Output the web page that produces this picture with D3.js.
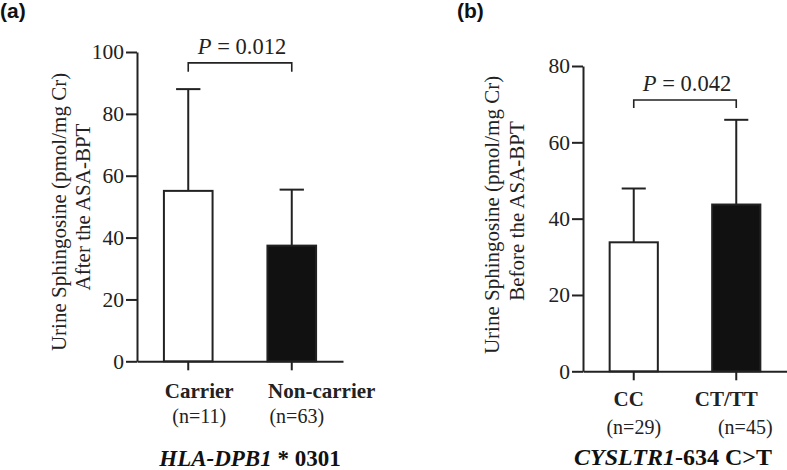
<!DOCTYPE html>
<html>
<head>
<meta charset="utf-8">
<script src="https://cdn.jsdelivr.net/npm/d3@7"></script>
<style>
  body { margin: 0; background: #fff; }
  svg { display: block; font-family: "Liberation Serif", "Times New Roman", serif; }
</style>
</head>
<body>
<svg id="chart" width="787" height="470"></svg>
<script>
"use strict";

// panel (a) values
var a_categories = ["Carrier", "Non-carrier"];
var a_counts = ["(n=11)", "(n=63)"];
var a_means = [55.1, 37.4];
var a_sd = [32.9, 18.1];
var a_ticks = [0, 20, 40, 60, 80, 100];
var a_pvalue = "0.012";

// panel (b) values
var b_categories = ["CC", "CT/TT"];
var b_counts = ["(n=29)", "(n=45)"];
var b_means = [33.8, 43.7];
var b_sd = [14.1, 22.2];
var b_ticks = [0, 20, 40, 60, 80];
var b_pvalue = "0.042";

var INK = "#222";

var svg = d3.select("#chart");

function drawPanel(cfg){
  var g = svg.append("g");

  var x = d3.scaleBand()
  .domain(cfg.categories)
  .range([cfg.left, cfg.right])
  .paddingInner(0.53)
  .paddingOuter(0.26);

  var y = d3.scaleLinear()
  .domain([0, d3.max(cfg.ticks)])
  .range([cfg.bottom, cfg.top]);

  var rows = cfg.categories.map(function(c, i){
    return {cat: c, mean: cfg.means[i], sd: cfg.sd[i], n: cfg.counts[i], fill: cfg.fills[i]};
  });

  // y axis
  var yAxis = g.append("g")
  .attr("transform", "translate(" + cfg.left + ",0)")
  .call(d3.axisLeft(y).tickValues(cfg.ticks).tickSize(11).tickPadding(2).tickSizeOuter(0));

  yAxis.selectAll("text")
  .attr("font-family", "Liberation Serif")
  .attr("font-size", 21.5)
  .attr("fill", INK);

  // x axis
  g.append("g")
  .attr("transform", "translate(0," + y(0) + ")")
  .call(d3.axisBottom(x).tickSize(9).tickFormat("").tickSizeOuter(0));

  g.selectAll(".domain, .tick line")
  .attr("stroke", INK)
  .attr("stroke-width", 2);

  // error bars (upper only), drawn behind the bars
  var err = g.selectAll(".err")
  .data(rows)
  .enter()
  .append("g")
  .attr("class", "err")
  .attr("stroke", INK)
  .attr("stroke-width", 2);

  err.append("line")
  .attr("x1", function(d){ return x(d.cat) + x.bandwidth() / 2; })
  .attr("x2", function(d){ return x(d.cat) + x.bandwidth() / 2; })
  .attr("y1", function(d){ return y(d.mean); })
  .attr("y2", function(d){ return y(d.mean + d.sd); });

  err.append("line")
  .attr("x1", function(d){ return x(d.cat) + x.bandwidth() / 4; })
  .attr("x2", function(d){ return x(d.cat) + x.bandwidth() * 3 / 4; })
  .attr("y1", function(d){ return y(d.mean + d.sd); })
  .attr("y2", function(d){ return y(d.mean + d.sd); });

  // bars
  g.selectAll(".bar")
  .data(rows)
  .enter()
  .append("rect")
  .attr("class", "bar")
  .attr("x", function(d){ return x(d.cat); })
  .attr("width", x.bandwidth())
  .attr("y", function(d){ return y(d.mean); })
  .attr("height", function(d){ return y(0) - y(d.mean); })
  .attr("fill", function(d){ return d.fill; })
  .attr("stroke", INK)
  .attr("stroke-width", 2);

  // significance bracket
  var c0 = x(cfg.categories[0]) + x.bandwidth() / 2;
  var c1 = x(cfg.categories[1]) + x.bandwidth() / 2;
  var yb = y(cfg.bracket), yd = y(cfg.bracketDrop);

  g.append("path")
  .attr("d", "M" + c0 + "," + yd + "V" + yb + "H" + c1 + "V" + yd)
  .attr("fill", "none")
  .attr("stroke", INK)
  .attr("stroke-width", 1.6);

  var p = g.append("text")
  .attr("x", (c0 + c1) / 2 + 2)
  .attr("y", yb - 9)
  .attr("text-anchor", "middle")
  .attr("font-size", 22.5)
  .attr("fill", INK);
  p.append("tspan").attr("font-style", "italic").text("P");
  p.append("tspan").text(" = " + cfg.pvalue);

  // category names and counts
  g.selectAll(".cat")
  .data(rows)
  .enter()
  .append("text")
  .attr("class", "cat")
  .attr("x", function(d, i){ return x(d.cat) + x.bandwidth() / 2 + cfg.catShift[i]; })
  .attr("y", y(0) + cfg.catGap)
  .attr("text-anchor", "middle")
  .attr("font-size", 21)
  .attr("font-weight", "bold")
  .attr("fill", INK)
  .text(function(d){ return d.cat; });

  g.selectAll(".count")
  .data(rows)
  .enter()
  .append("text")
  .attr("class", "count")
  .attr("x", function(d, i){ return x(d.cat) + x.bandwidth() / 2 + cfg.countShift[i]; })
  .attr("y", y(0) + cfg.countGap)
  .attr("text-anchor", "middle")
  .attr("font-size", 20)
  .attr("fill", INK)
  .text(function(d){ return d.n; });

  // gene title
  var t = g.append("text")
  .attr("x", cfg.titleX)
  .attr("y", cfg.titleY)
  .attr("text-anchor", "middle")
  .attr("font-size", cfg.titleSize)
  .attr("font-weight", "bold")
  .attr("fill", "#111");
  t.append("tspan").attr("font-style", "italic").text(cfg.gene);
  t.append("tspan").text(cfg.geneRest);

  // y label, two lines
  cfg.yLabel.forEach(function(line, i){
    g.append("text")
    .attr("transform", "translate(" + cfg.yLabelPos[i][0] + "," + cfg.yLabelPos[i][1] + ") rotate(-90)")
    .attr("text-anchor", "middle")
    .attr("dy", "0.35em")
    .attr("font-size", 21)
    .attr("fill", INK)
    .text(line);
  });

  // panel letter
  svg.append("text")
  .attr("x", cfg.letterX)
  .attr("y", 18)
  .attr("font-family", "Liberation Sans, Arial, sans-serif")
  .attr("font-size", 21)
  .attr("font-weight", "bold")
  .attr("fill", "#111")
  .text(cfg.letter);
}

drawPanel({
  categories: a_categories, counts: a_counts, means: a_means, sd: a_sd,
  ticks: a_ticks, pvalue: a_pvalue, fills: ["#fff", "#111"],
  left: 137, right: 343, top: 52, bottom: 361.3,
  bracket: 96.5, bracketDrop: 93.6,
  catShift: [11, 30], countShift: [11, 5], catGap: 37, countGap: 62,
  gene: "HLA-DPB1", geneRest: " * 0301", titleX: 250, titleY: 466, titleSize: 23,
  yLabel: ["Urine Sphingosine (pmol/mg Cr)", "After the ASA-BPT"],
  yLabelPos: [[59, 212], [83, 207]],
  letter: "(a)", letterX: 0
});

drawPanel({
  categories: b_categories, counts: b_counts, means: b_means, sd: b_sd,
  ticks: b_ticks, pvalue: b_pvalue, fills: ["#fff", "#111"],
  left: 583, right: 787, top: 66, bottom: 371.3,
  bracket: 71.1, bracketDrop: 69.0,
  catShift: [-5, -10], countShift: [0, 9], catGap: 35, countGap: 63,
  gene: "CYSLTR1", geneRest: "-634 C>T", titleX: 673, titleY: 465, titleSize: 24,
  yLabel: ["Urine Sphingosine (pmol/mg Cr)", "Before the ASA-BPT"],
  yLabelPos: [[492, 215], [517, 211]],
  letter: "(b)", letterX: 457
});
</script>
</body>
</html>
